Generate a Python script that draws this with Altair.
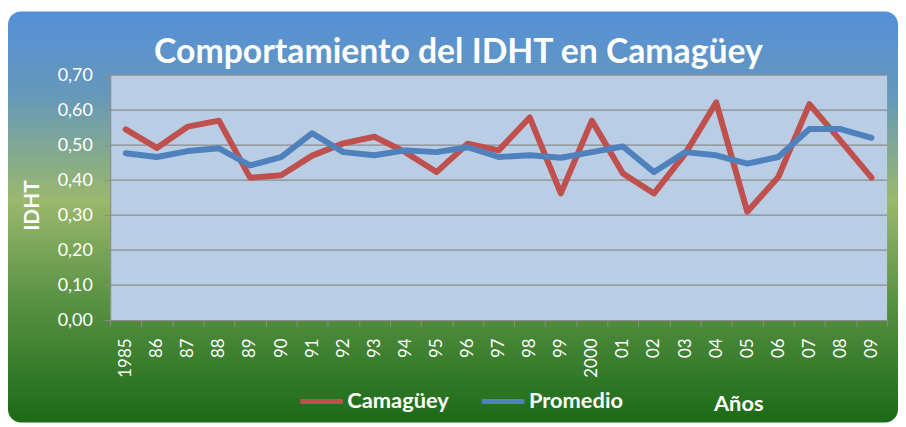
import altair as alt
import pandas as pd

title_text = "Comportamiento del IDHT en Camagüey"
years = ["1985", "86", "87", "88", "89", "90", "91", "92", "93", "94", "95", "96", "97",
         "98", "99", "2000", "01", "02", "03", "04", "05", "06", "07", "08", "09"]
camaguey = [0.545, 0.492, 0.553, 0.570, 0.407, 0.414, 0.470, 0.505, 0.524, 0.480, 0.423, 0.504, 0.485,
            0.579, 0.362, 0.570, 0.419, 0.362, 0.475, 0.622, 0.310, 0.409, 0.617, 0.513, 0.407]
promedio = [0.477, 0.466, 0.483, 0.491, 0.442, 0.466, 0.534, 0.480, 0.471, 0.485, 0.480, 0.494, 0.466,
            0.471, 0.464, 0.480, 0.496, 0.423, 0.480, 0.471, 0.447, 0.466, 0.546, 0.546, 0.521]
series = ["Camagüey", "Promedio"]
colors = ["#c0504d", "#4f81bd"]
y_ticks = [0, 0.1, 0.2, 0.3, 0.4, 0.5, 0.6, 0.7]
grid_values = [0.1, 0.2, 0.3, 0.4, 0.5, 0.6, 0.7]

W, H = 783, 247
FONT = "Lato"

df = pd.DataFrame({
    "year": years * 2,
    "value": camaguey + promedio,
    "serie": [series[0]] * len(years) + [series[1]] * len(years),
})
one = pd.DataFrame({"t": [title_text]})

y_scale = alt.Scale(domain=[0, 0.7], nice=False)
y_axis = alt.Axis(
    title="IDHT", values=y_ticks,
    labelExpr="replace(format(datum.value, '.2f'), '.', ',')",
    labelColor="white", labelFont=FONT, labelFontSize=18, labelPadding=12,
    labelOverlap=False, labelFlush=False, labelBound=False,
    tickSize=6, tickColor="#8c8c8c", domainColor="#8c8c8c", domainWidth=1.2,
    grid=False, zindex=1,
    titleColor="white", titleFont=FONT, titleFontSize=21, titleFontWeight="bold",
    titleX=-78, titleY=131, titleAngle=-90, titleBaseline="middle", titleAlign="center",
)

bg = alt.Chart(one).mark_rect(
    cornerRadius=13,
    color=alt.Gradient(
        gradient="linear", x1=0, y1=0, x2=0, y2=1,
        stops=[
            alt.GradientStop(color="#5590d8", offset=0),
            alt.GradientStop(color="#6598bb", offset=0.2),
            alt.GradientStop(color="#9bb86c", offset=0.46),
            alt.GradientStop(color="#5a9245", offset=0.7),
            alt.GradientStop(color="#1b6a17", offset=1),
        ],
    ),
).encode(x=alt.value(-103), x2=alt.value(794), y=alt.value(-64), y2=alt.value(350))

plotbg = alt.Chart(one).mark_rect(color="#b9cde5").encode(
    x=alt.value(0), x2=alt.value(W), y=alt.value(0), y2=alt.value(H)
)

title = alt.Chart(one).mark_text(
    color="white", font=FONT, fontSize=34, fontWeight="bold", align="center", baseline="alphabetic"
).encode(text="t:N", x=alt.value(351), y=alt.value(-12))

grid = alt.Chart(pd.DataFrame({"value": grid_values})).mark_rule(color="#8c8c8c", strokeWidth=1.2).encode(
    y=alt.Y("value:Q", scale=y_scale, axis=y_axis),
    x=alt.value(0), x2=alt.value(W),
)

lines = alt.Chart(df).mark_line(strokeWidth=6, strokeJoin="round", strokeCap="round").encode(
    x=alt.X("year:O", sort=years, bandPosition=0.5,
            scale=alt.Scale(type="band", paddingInner=0, paddingOuter=0),
            axis=alt.Axis(
                title="Años", labelAngle=-90, labelColor="white", labelFont=FONT, labelFontSize=17,
                labelPadding=12, tickBand="extent", tickSize=6, tickColor="#8c8c8c",
                domainColor="#8c8c8c", domainWidth=1.2, grid=False, zindex=1,
                titleColor="white", titleFont=FONT, titleFontSize=22, titleFontWeight="bold",
                titleX=633, titleY=91, titleAlign="center", titleBaseline="alphabetic",
                labelOverlap=False, labelBound=False,
            )),
    y=alt.Y("value:Q", scale=y_scale, axis=y_axis),
    color=alt.Color("serie:N", sort=series,
                    scale=alt.Scale(domain=series, range=colors),
                    legend=alt.Legend(
                        title=None, orient="none", legendX=189, legendY=305, direction="horizontal",
                        symbolType="stroke", symbolSize=1849, symbolStrokeWidth=5,
                        labelColor="white", labelFont=FONT, labelFontSize=22, labelFontWeight="bold",
                        labelOffset=2, columnPadding=22, zindex=1,
                    )),
)

chart = alt.layer(bg, plotbg, grid, lines, title).properties(
    width=W, height=H,
    padding={"left": 0, "top": 2, "right": 0, "bottom": 0},
).configure_view(stroke=None)

chart.save("out.html", embed_options={"renderer": "svg", "actions": False})
